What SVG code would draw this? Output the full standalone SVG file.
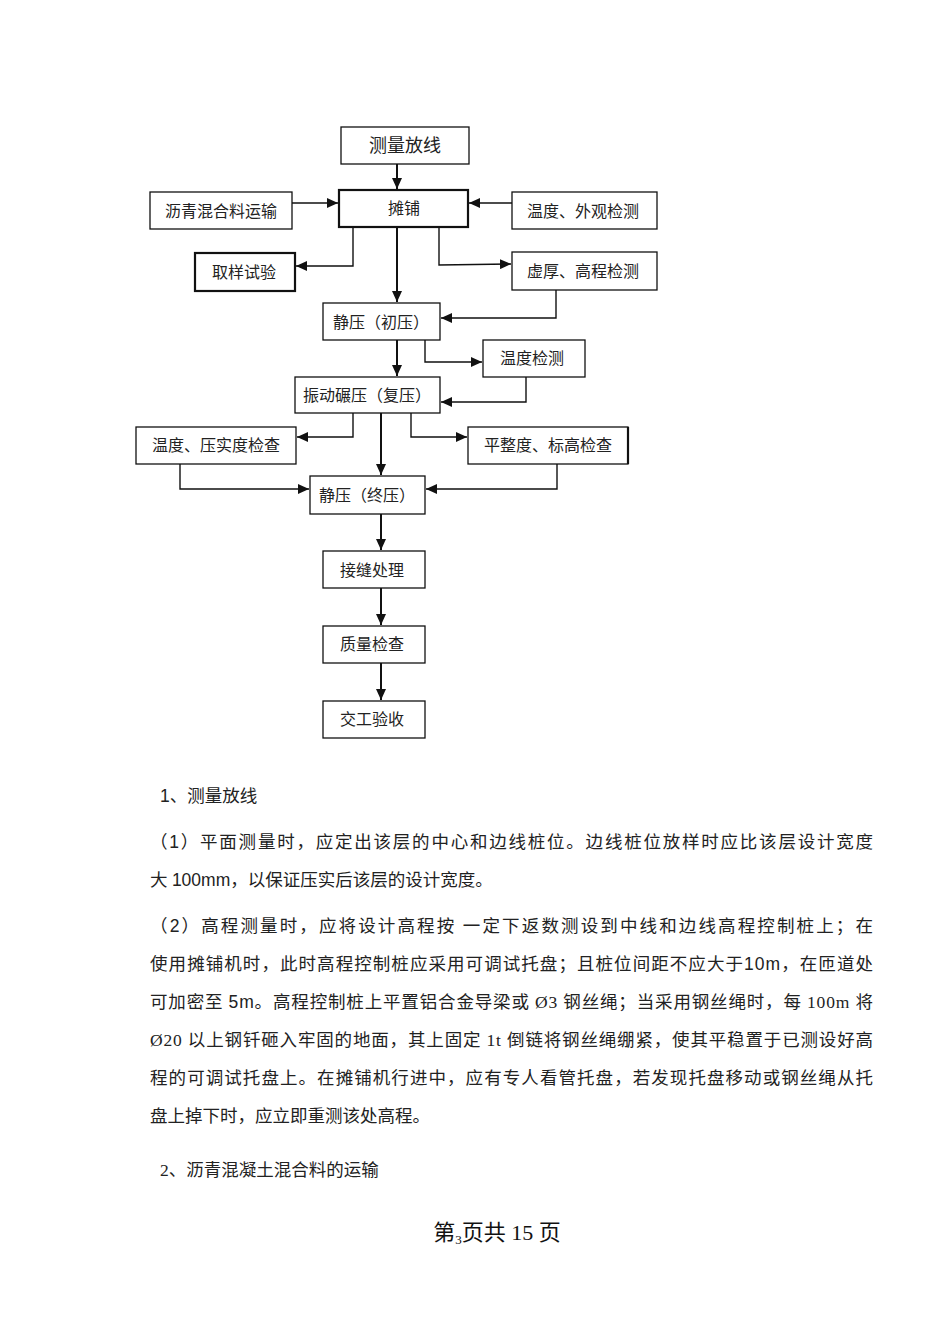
<svg xmlns="http://www.w3.org/2000/svg" width="950" height="1344" viewBox="0 0 950 1344">
<style>
.box{fill:#fff;stroke:#111;stroke-width:1.3}
.thick{stroke-width:2.2}
.lbl{font-family:"Liberation Serif","Noto Sans CJK SC",serif;font-size:16px;fill:#222;text-anchor:middle;dominant-baseline:central}
.con{fill:none;stroke:#111;stroke-width:1.4}
.main{stroke-width:2}
.body{font-family:"Liberation Serif","Noto Sans CJK SC",serif;font-size:17.5px;fill:#222}
.num{font-family:"Liberation Sans Narrow","Liberation Sans",sans-serif}
</style>
<defs>
<marker id="ah" markerUnits="userSpaceOnUse" markerWidth="12" markerHeight="10" refX="11" refY="5" orient="auto">
<path d="M0,0 L11,5 L0,10 Z" fill="#111"/>
</marker>
</defs>
<rect width="950" height="1344" fill="#fff"/>

<g id="connectors">
<path class="con main" d="M397,164 V189" marker-end="url(#ah)"/>
<path class="con" d="M292,203 H338" marker-end="url(#ah)"/>
<path class="con" d="M512,203 H469" marker-end="url(#ah)"/>
<path class="con" d="M353,227 V266 H296" marker-end="url(#ah)"/>
<path class="con main" d="M397,227 V302" marker-end="url(#ah)"/>
<path class="con" d="M439,227 V265 L511,264" marker-end="url(#ah)"/>
<path class="con" d="M556,290 V318 H441" marker-end="url(#ah)"/>
<path class="con main" d="M397,340 V376" marker-end="url(#ah)"/>
<path class="con" d="M425,340 V362 H482" marker-end="url(#ah)"/>
<path class="con" d="M526,377 V402 H441" marker-end="url(#ah)"/>
<path class="con" d="M353,413 V437 H297" marker-end="url(#ah)"/>
<path class="con main" d="M381,413 V475" marker-end="url(#ah)"/>
<path class="con" d="M411,413 V437 H467" marker-end="url(#ah)"/>
<path class="con" d="M180,463 V489 H309" marker-end="url(#ah)"/>
<path class="con" d="M557,463 V489 H426" marker-end="url(#ah)"/>
<path class="con main" d="M381,514 V550" marker-end="url(#ah)"/>
<path class="con main" d="M381,588 V625" marker-end="url(#ah)"/>
<path class="con main" d="M381,663 V700" marker-end="url(#ah)"/>
</g>

<g id="n1"><rect class="box" x="341" y="127" width="128" height="37"/><text class="lbl" x="405" y="146" style="font-size:18px">测量放线</text></g>
<g id="n2"><rect class="box thick" x="339" y="190" width="129" height="37"/><text class="lbl" x="404" y="208">摊铺</text></g>
<g id="n3"><rect class="box" x="150" y="192" width="142" height="37"/><text class="lbl" x="221" y="211">沥青混合料运输</text></g>
<g id="n4"><rect class="box" x="512" y="192" width="145" height="37"/><text class="lbl" x="583" y="211">温度、外观检测</text></g>
<g id="n5"><rect class="box thick" x="195" y="253" width="100" height="38"/><text class="lbl" x="244" y="272">取样试验</text></g>
<g id="n6"><rect class="box" x="512" y="252" width="145" height="38"/><text class="lbl" x="583" y="271">虚厚、高程检测</text></g>
<g id="n7"><rect class="box" x="323" y="303" width="117" height="37"/><text class="lbl" x="381" y="322">静压（初压）</text></g>
<g id="n8"><rect class="box" x="483" y="340" width="102" height="37"/><text class="lbl" x="532" y="358">温度检测</text></g>
<g id="n9"><rect class="box" x="295" y="377" width="145" height="36"/><text class="lbl" x="367" y="395">振动碾压（复压）</text></g>
<g id="n10"><rect class="box" x="136" y="427" width="160" height="37"/><text class="lbl" x="216" y="445">温度、压实度检查</text></g>
<g id="n11"><rect class="box" x="468" y="427" width="160" height="37"/><line x1="628" y1="427" x2="628" y2="464" stroke="#111" stroke-width="2.2"/><text class="lbl" x="548" y="445">平整度、标高检查</text></g>
<g id="n12"><rect class="box" x="310" y="476" width="115" height="38"/><text class="lbl" x="367" y="495">静压（终压）</text></g>
<g id="n13"><rect class="box" x="323" y="551" width="102" height="37"/><text class="lbl" x="372" y="570">接缝处理</text></g>
<g id="n14"><rect class="box" x="323" y="626" width="102" height="37"/><text class="lbl" x="372" y="644">质量检查</text></g>
<g id="n15"><rect class="box" x="323" y="701" width="102" height="37"/><text class="lbl" x="372" y="719">交工验收</text></g>

<g id="body">
<text class="body" x="160" y="802"><tspan class="num">1</tspan>、测量放线</text>
<text class="body" x="150" y="848" textLength="723" lengthAdjust="spacing">（<tspan class="num">1</tspan>）平面测量时，应定出该层的中心和边线桩位。边线桩位放样时应比该层设计宽度</text>
<text class="body" x="150" y="886">大 <tspan class="num">100mm</tspan>，以保证压实后该层的设计宽度。</text>
<text class="body" x="150" y="932" textLength="723" lengthAdjust="spacing">（<tspan class="num">2</tspan>）高程测量时，应将设计高程按 一定下返数测设到中线和边线高程控制桩上；在</text>
<text class="body" x="150" y="970" textLength="723" lengthAdjust="spacing">使用摊铺机时，此时高程控制桩应采用可调试托盘；且桩位间距不应大于<tspan class="num">10m</tspan>，在匝道处</text>
<text class="body" x="150" y="1008" textLength="723" lengthAdjust="spacing">可加密至 <tspan class="num">5m</tspan>。高程控制桩上平置铝合金导梁或 Ø3 钢丝绳；当采用钢丝绳时，每 100m 将</text>
<text class="body" x="150" y="1046" textLength="723" lengthAdjust="spacing">Ø20 以上钢钎砸入牢固的地面，其上固定 1t 倒链将钢丝绳绷紧，使其平稳置于已测设好高</text>
<text class="body" x="150" y="1084" textLength="723" lengthAdjust="spacing">程的可调试托盘上。在摊铺机行进中，应有专人看管托盘，若发现托盘移动或钢丝绳从托</text>
<text class="body" x="150" y="1122">盘上掉下时，应立即重测该处高程。</text>
<text class="body" x="160" y="1176">2、沥青混凝土混合料的运输</text>
<text x="497" y="1240" text-anchor="middle" style="font-family:'Liberation Serif','Noto Sans CJK SC',serif;font-size:22px;fill:#111">第<tspan font-size="13" dy="4">3</tspan><tspan dy="-4">页共 15 页</tspan></text>
</g>
</svg>
